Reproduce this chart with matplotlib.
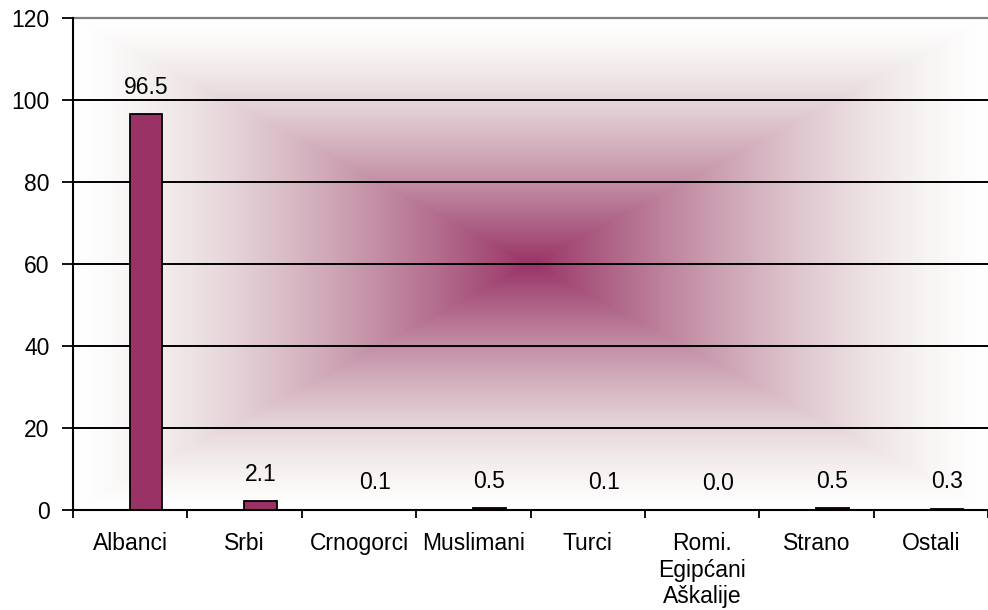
import numpy as np
import matplotlib
matplotlib.use("Agg")
import matplotlib.pyplot as plt
from matplotlib.colors import to_rgb

categories = ["Albanci", "Srbi", "Crnogorci", "Muslimani", "Turci",
              "Romi.\nEgipćani\nAškalije", "Strano", "Ostali"]
values = [96.5, 2.1, 0.1, 0.5, 0.1, 0.0, 0.5, 0.3]
value_labels = ["96.5", "2.1", "0.1", "0.5", "0.1", "0.0", "0.5", "0.3"]
yticks = [0, 20, 40, 60, 80, 100, 120]

plt.rcParams['font.family'] = ['Liberation Sans', 'DejaVu Sans']
FS = 16.5

fig = plt.figure(figsize=(9.88, 6.10), dpi=100)
ax = fig.add_axes([73/988, 1-510/610, 1-73/988, (510-18)/610])

# rectangular "from center" gradient background
maroon = np.array(to_rgb("#993366"))
ny, nx = 500, 900
yy, xx = np.mgrid[-1:1:ny*1j, -1:1:nx*1j]
t = np.clip(np.maximum(np.abs(xx), np.abs(yy)), 0, 1)
exps = np.array([1.3, 1.45, 1.3])
w = 1 - (1 - t[..., None]) ** exps[None, None, :]
img = maroon[None, None, :] * (1 - w) + w
ax.imshow(np.clip(img, 0, 1), extent=[0, 1, 0, 1], transform=ax.transAxes,
          aspect='auto', zorder=0, interpolation='bilinear')

n = len(categories)
x = np.arange(n)
bar_off = 0.14
bar_w = 0.285
ax.bar(x + bar_off, values, width=bar_w, color="#993366", edgecolor="black",
       linewidth=1.3, zorder=3)

for xi, v, lab in zip(x, values, value_labels):
    ax.annotate(lab, (xi + bar_off, v), xytext=(0, 11), textcoords='offset points',
                ha='center', va='bottom', fontsize=FS, zorder=4)

ax.set_xlim(-0.5, n - 0.5)
ax.set_ylim(0, 120)
for yv in yticks[1:-1]:
    ax.axhline(yv, color='black', linewidth=1.4, zorder=2)
ax.axhline(120, color='#808080', linewidth=1.6, zorder=2, clip_on=False)

ax.set_yticks(yticks)
ax.set_yticklabels([str(v) for v in yticks], fontsize=FS)
ax.tick_params(axis='y', direction='out', length=8, width=1.3, pad=9)

ax.set_xticks(np.arange(n + 1) - 0.5)
ax.set_xticklabels([])
ax.set_xticks(x, minor=True)
ax.set_xticklabels(categories, minor=True, fontsize=FS, linespacing=1.2)
ax.tick_params(axis='x', which='major', direction='out', length=6, width=1.3)
ax.tick_params(axis='x', which='minor', length=0, pad=16)

for s in ['top', 'right']:
    ax.spines[s].set_visible(False)
for s in ['left', 'bottom']:
    ax.spines[s].set_linewidth(1.5)
    ax.spines[s].set_zorder(5)

fig.savefig("out.png", dpi=100, facecolor='white')
